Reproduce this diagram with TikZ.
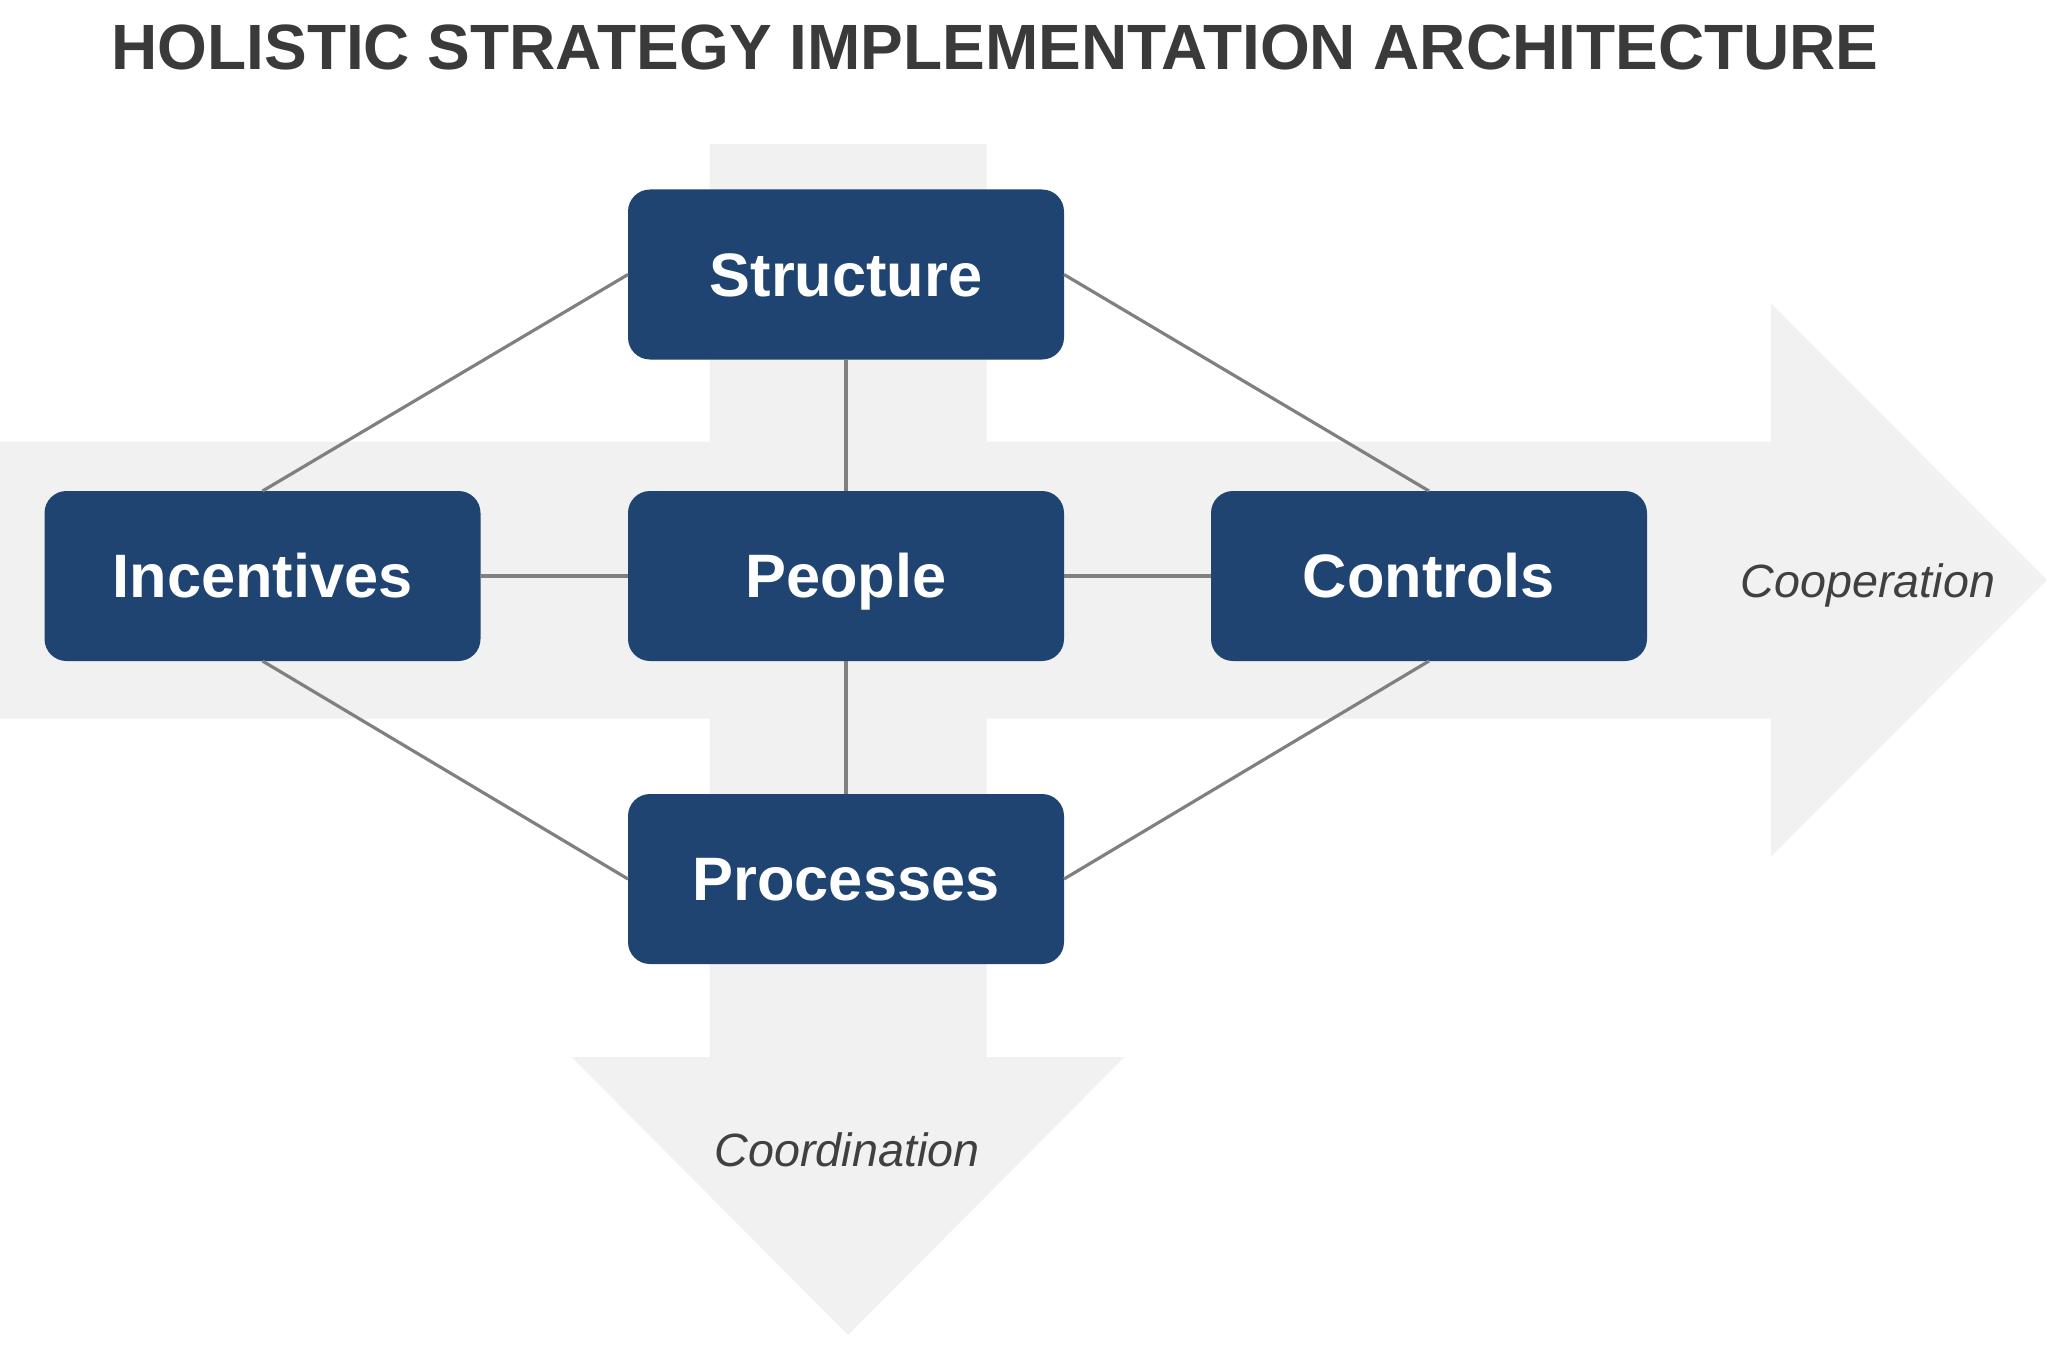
\documentclass[tikz,border=0pt]{standalone}
\usepackage{amssymb, mathtools, amsmath}
\usepackage{fontspec}
\setmainfont{Liberation Sans}
\usepackage{tikz}

\tikzset{
  bandfill/.style={draw=none, fill={rgb, 255:red, 241; green, 241; blue, 241 }},
  blockbox/.style={draw=none, fill={rgb, 255:red, 31; green, 68; blue, 113 }, rounded corners=16.5pt,
    minimum width=327pt, minimum height=127.5pt, inner sep=0pt, outer sep=0pt,
    text={rgb, 255:red, 255; green, 255; blue, 255 }, font=\fontsize{46}{50}\selectfont\bfseries,
    text height=32.9pt, text depth=0pt},
  linkline/.style={color={rgb, 255:red, 128; green, 128; blue, 128 }, line width=2.4pt},
  flowtext/.style={inner sep=0pt, text={rgb, 255:red, 64; green, 64; blue, 64 },
    font=\fontsize{35}{40}\selectfont\itshape, text height=25.1pt, text depth=0pt},
  titletext/.style={inner sep=0pt, text={rgb, 255:red, 58; green, 58; blue, 58 },
    font=\fontsize{48}{52}\selectfont\bfseries, text height=34.4pt, text depth=0pt}
}

\begin{document}
\begin{tikzpicture}[x=0.75pt,y=0.75pt,yscale=-1,xscale=1]
\useasboundingbox (0,0) rectangle (2048,1366);

%Shape: Right Arrow
\draw [bandfill] (0,441.5) -- (1771,441.5) -- (1771,303.5) -- (2047,580) -- (1771,856.5) -- (1771,718.5) -- (0,718.5) -- cycle ;
%Shape: Down Arrow
\draw [bandfill] (709.5,144) -- (986.5,144) -- (986.5,1057) -- (1124.5,1057) -- (848,1335) -- (571.5,1057) -- (709.5,1057) -- cycle ;

% Text Node
\draw (995,46.5) node [titletext] (title) {HOLISTIC STRATEGY IMPLEMENTATION ARCHITECTURE};

%Rounded Rect
\draw (846,274.5) node [blockbox] (structure) {Structure};
%Rounded Rect
\draw (262.5,576) node [blockbox] (incentives) {Incentives};
%Rounded Rect
\draw (846,576) node [blockbox] (people) {People};
%Rounded Rect
\draw (1429,576) node [blockbox] (controls) {Controls};
%Rounded Rect
\draw (846,879) node [blockbox] (processes) {Processes};

%Straight Lines
\draw [linkline] (structure.west) -- (incentives.north) ;
\draw [linkline] (structure.east) -- (controls.north) ;
\draw [linkline] (structure.south) -- (people.north) ;
\draw [linkline] (incentives.east) -- (people.west) ;
\draw [linkline] (people.east) -- (controls.west) ;
\draw [linkline] (people.south) -- (processes.north) ;
\draw [linkline] (incentives.south) -- (processes.west) ;
\draw [linkline] (controls.south) -- (processes.east) ;

% Text Node
\draw (1868,581) node [flowtext] (cooperation) {Cooperation};
% Text Node
\draw (847,1150) node [flowtext] (coordination) {Coordination};

\end{tikzpicture}
\end{document}
